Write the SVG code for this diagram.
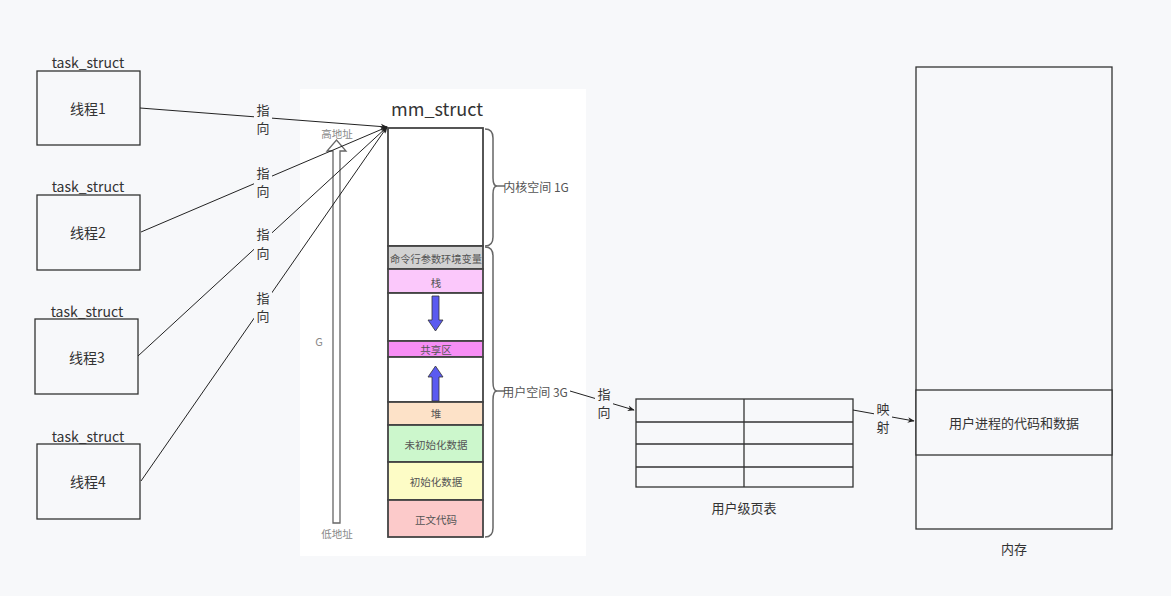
<svg xmlns="http://www.w3.org/2000/svg" width="1171" height="596" viewBox="0 0 1171 596">
<defs>
<style>
.t{font-family:"Noto Sans CJK SC","Noto Sans",sans-serif;fill:#333;text-anchor:middle;dominant-baseline:central}
.box{fill:none;stroke:#333;stroke-width:1.3}
.seg{stroke:#444;stroke-width:1.8}
.small{font-size:10.5px;fill:#555}
.side{font-size:12px;fill:#555}
.gray{fill:#888}
.ln{fill:none;stroke:#222;stroke-width:1}
.lbl{fill:#f7f8fa}
.brace{fill:none;stroke:#666;stroke-width:1.5}
</style>
<marker id="ah" viewBox="0 0 10 10" refX="9" refY="5" markerWidth="7" markerHeight="7" orient="auto"><path d="M0,1 L10,5 L0,9 L3,5 z" fill="#222"/></marker>
</defs>
<rect width="1171" height="596" fill="#f7f8fa"/>
<rect x="300" y="89" width="286" height="467" fill="#fff"/>

<g id="thread1"><text class="t" x="88" y="62" font-size="14">task_struct</text><rect class="box" x="37" y="71" width="103" height="74" fill="#f7f8fa"/><text class="t" x="88" y="108" font-size="14">线程1</text></g>
<g id="thread2"><text class="t" x="88" y="186" font-size="14">task_struct</text><rect class="box" x="37" y="195" width="103" height="75" fill="#f7f8fa"/><text class="t" x="88" y="232" font-size="14">线程2</text></g>
<g id="thread3"><text class="t" x="87" y="311" font-size="14">task_struct</text><rect class="box" x="35" y="319" width="103" height="75" fill="#f7f8fa"/><text class="t" x="87" y="357" font-size="14">线程3</text></g>
<g id="thread4"><text class="t" x="88" y="436" font-size="14">task_struct</text><rect class="box" x="37" y="444" width="103" height="75" fill="#f7f8fa"/><text class="t" x="88" y="481" font-size="14">线程4</text></g>

<g id="mm_struct">
<text class="t" x="437" y="108" font-size="18" fill="#111">mm_struct</text>
<rect x="388" y="128" width="95" height="118" fill="#fff" class="seg"/>
<rect x="388" y="246" width="95" height="23" fill="#d2d2d2" class="seg"/>
<rect x="388" y="269" width="95" height="24" fill="#fbc8fb" class="seg"/>
<rect x="388" y="293" width="95" height="48" fill="#fff" class="seg"/>
<rect x="388" y="341" width="95" height="16" fill="#f78ef5" class="seg"/>
<rect x="388" y="357" width="95" height="45" fill="#fff" class="seg"/>
<rect x="388" y="402" width="95" height="23" fill="#fde2c8" class="seg"/>
<rect x="388" y="425" width="95" height="37" fill="#ccf7cc" class="seg"/>
<rect x="388" y="462" width="95" height="38" fill="#fdfcc6" class="seg"/>
<rect x="388" y="500" width="95" height="37" fill="#fccaca" class="seg"/>
<text class="t small" x="436" y="258" textLength="92" lengthAdjust="spacingAndGlyphs">命令行参数环境变量</text>
<text class="t small" x="436" y="282">栈</text>
<text class="t small" x="436" y="349">共享区</text>
<text class="t small" x="436" y="413">堆</text>
<text class="t small" x="436" y="444">未初始化数据</text>
<text class="t small" x="436" y="481">初始化数据</text>
<text class="t small" x="436" y="519">正文代码</text>
<path d="M432,296 V320 H428 L435.5,331 L443,320 H439 V296 Z" fill="#5a5af0" stroke="#333" stroke-width="0.8"/>
<path d="M432,401 V377 H428 L435.5,366 L443,377 H439 V401 Z" fill="#5a5af0" stroke="#333" stroke-width="0.8"/>
<path class="brace" d="M485,129 c5,0 8,3 8,9 v40 c0,5 1,8 4,8 c-3,0 -4,3 -4,8 v43 c0,6 -3,9 -8,9"/>
<line x1="497" y1="186" x2="505" y2="186" stroke="#666" stroke-width="1.5"/>
<text class="t side" x="536" y="186">内核空间 1G</text>
<path class="brace" d="M485,247 c5,0 8,3 8,9 v126 c0,5 1,9 4,9 c-3,0 -4,4 -4,9 v128 c0,6 -3,9 -8,9"/>
<line x1="497" y1="391" x2="505" y2="391" stroke="#666" stroke-width="1.5"/>
<text class="t side" x="535" y="391">用户空间 3G</text>
<path d="M333,523 V151 H327 L336.5,140 L346,151 H340 V523 Z" fill="#fff" stroke="#666" stroke-width="1.3"/>
<text class="t small gray" x="337" y="133">高地址</text>
<text class="t small gray" x="337" y="533">低地址</text>
<text class="t gray" x="319" y="341" font-size="11">G</text>
</g>

<g id="page_table">
<rect x="636" y="399" width="217" height="88" fill="#f7f8fa" stroke="#333" stroke-width="1.3"/>
<line x1="744" y1="399" x2="744" y2="487" stroke="#333" stroke-width="1.3"/>
<line x1="636" y1="422" x2="853" y2="422" stroke="#333" stroke-width="1.3"/>
<line x1="636" y1="444" x2="853" y2="444" stroke="#333" stroke-width="1.3"/>
<line x1="636" y1="467" x2="853" y2="467" stroke="#333" stroke-width="1.3"/>
<text class="t" x="744" y="507" font-size="13">用户级页表</text>
</g>

<g id="memory">
<rect x="916" y="67" width="196" height="462" fill="#f7f8fa" stroke="#333" stroke-width="1.3"/>
<rect x="916" y="390" width="196" height="65" fill="#f7f8fa" stroke="#333" stroke-width="1.3"/>
<text class="t" x="1014" y="422" font-size="13">用户进程的代码和数据</text>
<text class="t" x="1014" y="548" font-size="13">内存</text>
</g>

<g id="connectors">
<line class="ln" x1="140" y1="108" x2="387" y2="127" marker-end="url(#ah)"/>
<line class="ln" x1="141" y1="232" x2="387" y2="127" marker-end="url(#ah)"/>
<line class="ln" x1="138" y1="356" x2="387" y2="127" marker-end="url(#ah)"/>
<line class="ln" x1="141" y1="481" x2="387" y2="127" marker-end="url(#ah)"/>
<path class="ln" d="M570,391 L634,410" marker-end="url(#ah)"/>
<path class="ln" d="M853,410 L914,421" marker-end="url(#ah)"/>
<rect class="lbl" x="254" y="98" width="18" height="40"/>
<rect class="lbl" x="254" y="162" width="18" height="40"/>
<rect class="lbl" x="254" y="223" width="18" height="40"/>
<rect class="lbl" x="254" y="287" width="18" height="40"/>
<rect class="lbl" x="595" y="383" width="18" height="38"/>
<rect class="lbl" x="874" y="398" width="18" height="38"/>
<text class="t" x="263" y="109" font-size="13">指</text><text class="t" x="263" y="127" font-size="13">向</text>
<text class="t" x="263" y="172" font-size="13">指</text><text class="t" x="263" y="190" font-size="13">向</text>
<text class="t" x="263" y="233" font-size="13">指</text><text class="t" x="263" y="252" font-size="13">向</text>
<text class="t" x="263" y="297" font-size="13">指</text><text class="t" x="263" y="315" font-size="13">向</text>
<text class="t" x="604" y="393" font-size="13">指</text><text class="t" x="604" y="411" font-size="13">向</text>
<text class="t" x="883" y="408" font-size="13">映</text><text class="t" x="883" y="426" font-size="13">射</text>
</g>
</svg>
